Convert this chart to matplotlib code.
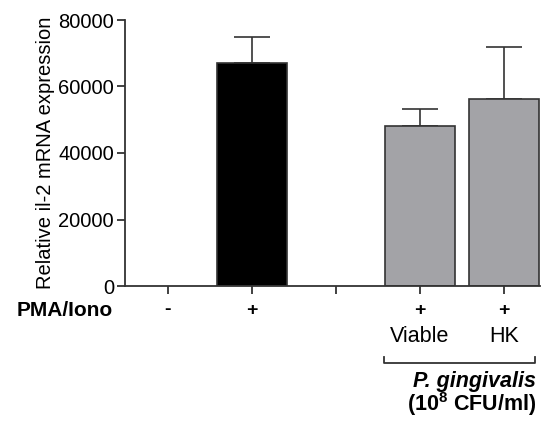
import matplotlib
matplotlib.use("Agg")
import matplotlib.pyplot as plt
import numpy as np

plt.rcParams['font.family'] = ['Liberation Sans', 'DejaVu Sans']
plt.rcParams['mathtext.fontset'] = 'custom'
plt.rcParams['mathtext.rm'] = 'Liberation Sans'
plt.rcParams['mathtext.bf'] = 'Liberation Sans:bold'

positions = [0, 1, 2, 3, 4]
pma_signs = ['-', '+', '', '+', '+']
sub_labels = ['', '', '', 'Viable', 'HK']
bar_pos = [1, 3, 4]
bar_vals = [67000, 48000, 56300]
bar_errs = [8000, 5200, 15700]
bar_colors = ['#000000', '#a3a3a7', '#a3a3a7']
yticks = [0, 20000, 40000, 60000, 80000]

W, H = 541, 425
fig = plt.figure(figsize=(W / 100, H / 100), dpi=100)
ax = fig.add_axes([125 / W, 1 - 286 / H, (540 - 125) / W, (286 - 20) / H])

ax.bar(bar_pos, bar_vals, width=0.83, color=bar_colors, edgecolor='#333333',
       linewidth=1.2, zorder=2)
ax.errorbar(bar_pos, bar_vals, yerr=[np.zeros(len(bar_errs)), bar_errs],
            fmt='none', ecolor='#333333', elinewidth=1.2, capsize=13,
            capthick=1.2, zorder=1)

ax.set_xlim(-0.51, 4.43)
ax.set_ylim(0, 80000)
ax.set_yticks(yticks)
ax.set_yticklabels([str(v) for v in yticks], fontsize=14.5)
ax.set_xticks(positions)
ax.set_xticklabels([])
for s in ['top', 'right']:
    ax.spines[s].set_visible(False)
for s in ['left', 'bottom']:
    ax.spines[s].set_linewidth(1.3)
    ax.spines[s].set_color('#333333')
ax.tick_params(axis='both', length=6, width=1.3, color='#333333', pad=2)
ax.set_ylabel('Relative il-2 mRNA expression', fontsize=14.5, labelpad=2)

tr = ax.get_xaxis_transform()
def ay(py):
    return (286 - py) / 266

fig.text(113 / W, 1 - 311 / H, 'PMA/Iono', fontsize=15, fontweight='bold',
         ha='right', va='center')
for p, s, sub in zip(positions, pma_signs, sub_labels):
    if s:
        ax.text(p, ay(310), s, transform=tr, fontsize=14, fontweight='bold',
                ha='center', va='center', clip_on=False)
    if sub:
        ax.text(p, ay(336), sub, transform=tr, fontsize=15.5,
                ha='center', va='center', clip_on=False)

# bracket
bx0, bx1 = 2.57, 4.37
ax.plot([bx0, bx0, bx1, bx1], [ay(357), ay(363), ay(363), ay(357)],
        transform=tr, color='#333333', lw=1.3, clip_on=False)
fig.text(536 / W, 1 - 381 / H, 'P. gingivalis', fontsize=15.5,
         fontweight='bold', fontstyle='italic', ha='right', va='center')
fig.text(536 / W, 1 - 404 / H, r'(10$^{\mathbf{8}}$ CFU/ml)', fontsize=15.5,
         fontweight='bold', ha='right', va='center')

fig.savefig('out.png', dpi=100)
